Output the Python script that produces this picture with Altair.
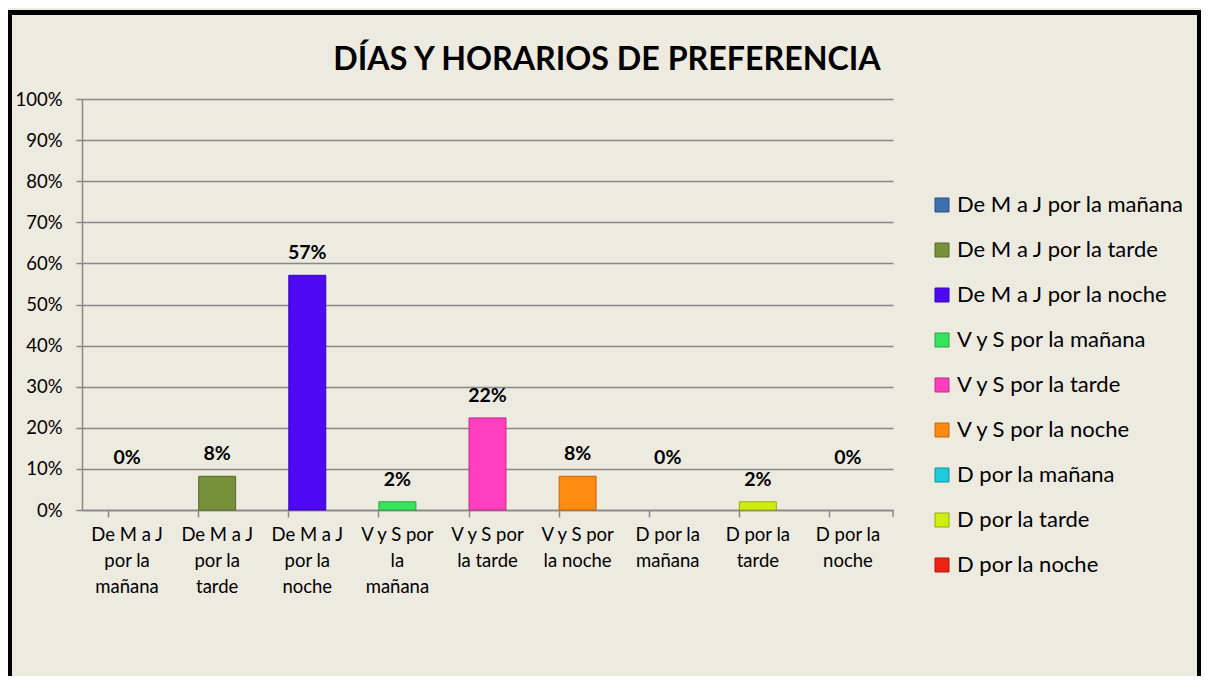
import altair as alt
import pandas as pd

categories = [
    "De M a J por la mañana", "De M a J por la tarde", "De M a J por la noche",
    "V y S por la mañana", "V y S por la tarde", "V y S por la noche",
    "D por la mañana", "D por la tarde", "D por la noche",
]
xlabels = [
    "De M a J|por la|mañana", "De M a J|por la|tarde", "De M a J|por la|noche",
    "V y S por|la|mañana", "V y S por|la tarde", "V y S por|la noche",
    "D por la|mañana", "D por la|tarde", "D por la|noche",
]
values = [0.0, 0.082, 0.571, 0.020, 0.224, 0.082, 0.0, 0.020, 0.0]
colors = ["#3D70AE", "#77913A", "#4E08F2", "#38E45E", "#FF3EC0",
          "#FF8A12", "#1FCBD8", "#CCEE10", "#EE2211"]
strokes = ["#28507F", "#566A28", "#3505B0", "#22A840", "#C02A8E",
           "#C0650A", "#14949E", "#94AC08", "#B0180C"]
title_text = "DÍAS Y HORARIOS DE PREFERENCIA"

df = pd.DataFrame({"cat": categories, "xl": xlabels, "value": values})

FONT = "Lato"
W, H = 811, 411
PL, PT = 74, 91
TW, TH = 1193, 668

x = alt.X("xl:N", sort=xlabels, title=None,
          scale=alt.Scale(paddingInner=0.59, paddingOuter=0.295),
          axis=alt.Axis(labelExpr="split(datum.label, '|')", labelAngle=0,
                        labelFontSize=18.5, labelLineHeight=26, labelPadding=8,
                        labelColor="#000000", labelFont=FONT, labelBaseline="top",
                        tickSize=7, tickColor="#888888", tickWidth=1.5,
                        bandPosition=0, domainColor="#888888", domainWidth=1.5,
                        grid=False))
y = alt.Y("value:Q", title=None,
          scale=alt.Scale(domain=[0, 1]),
          axis=alt.Axis(format=".0%", values=[i / 10 for i in range(11)],
                        labelFontSize=18.5, labelColor="#000000", labelFont=FONT,
                        labelPadding=14, tickSize=6, tickColor="#888888",
                        tickWidth=1.5, domainColor="#888888", domainWidth=1.5,
                        gridColor="#888888", gridWidth=1.5))

base = alt.Chart(df)

bars = base.transform_filter(alt.datum.value > 0).mark_bar(strokeWidth=1).encode(
    x=x, y=y,
    color=alt.Color("cat:N", sort=categories,
                    scale=alt.Scale(domain=categories, range=colors),
                    legend=alt.Legend(title=None, orient="none", legendX=849, legendY=95,
                                      symbolType="square", symbolSize=196,
                                      symbolStrokeWidth=1, labelFontSize=22,
                                      labelFont=FONT, labelColor="#000000",
                                      rowPadding=23, labelOffset=4, labelLimit=300)),
    stroke=alt.Stroke("cat:N", sort=categories,
                      scale=alt.Scale(domain=categories, range=strokes), legend=None),
)

lab_pos = base.transform_filter(alt.datum.value > 0).mark_text(
    fontSize=19.5, fontWeight="bold", font=FONT, baseline="middle", dy=-22, color="#000000"
).encode(x=x, y=y, text=alt.Text("value:Q", format=".0%"))

lab_zero = base.transform_filter(alt.datum.value == 0).mark_text(
    fontSize=19.5, fontWeight="bold", font=FONT, baseline="middle", dy=-52, color="#000000"
).encode(x=x, y=y, text=alt.Text("value:Q", format=".0%"))

one = base.transform_filter(alt.datum.value == 0.571)

end_tick = one.mark_rule(color="#888888", strokeWidth=1.5).encode(
    x=alt.value(W), y=alt.value(H), y2=alt.value(H + 7))

frame = one.mark_rect(fill=None, stroke="#000000", strokeWidth=5).encode(
    x=alt.value(1.5 - PL), x2=alt.value(TW - 1.5 - PL),
    y=alt.value(4.5 - PT), y2=alt.value(TH + 20 - PT))

title = one.mark_text(fontSize=32.2, fontWeight="bold", font=FONT, color="#000000",
                      baseline="middle", align="center").encode(
    x=alt.value(525), y=alt.value(-39), text=alt.value(title_text))

chart = alt.layer(bars, lab_pos, lab_zero, end_tick, frame, title).properties(
    width=W, height=H,
    autosize=alt.AutoSizeParams(type="none"),
    padding={"left": PL, "top": PT, "right": TW - PL - W, "bottom": TH - PT - H},
    background="#EDEAE0",
).configure_view(stroke=None)

chart.save("out.html", embed_options={"renderer": "svg", "actions": False})
